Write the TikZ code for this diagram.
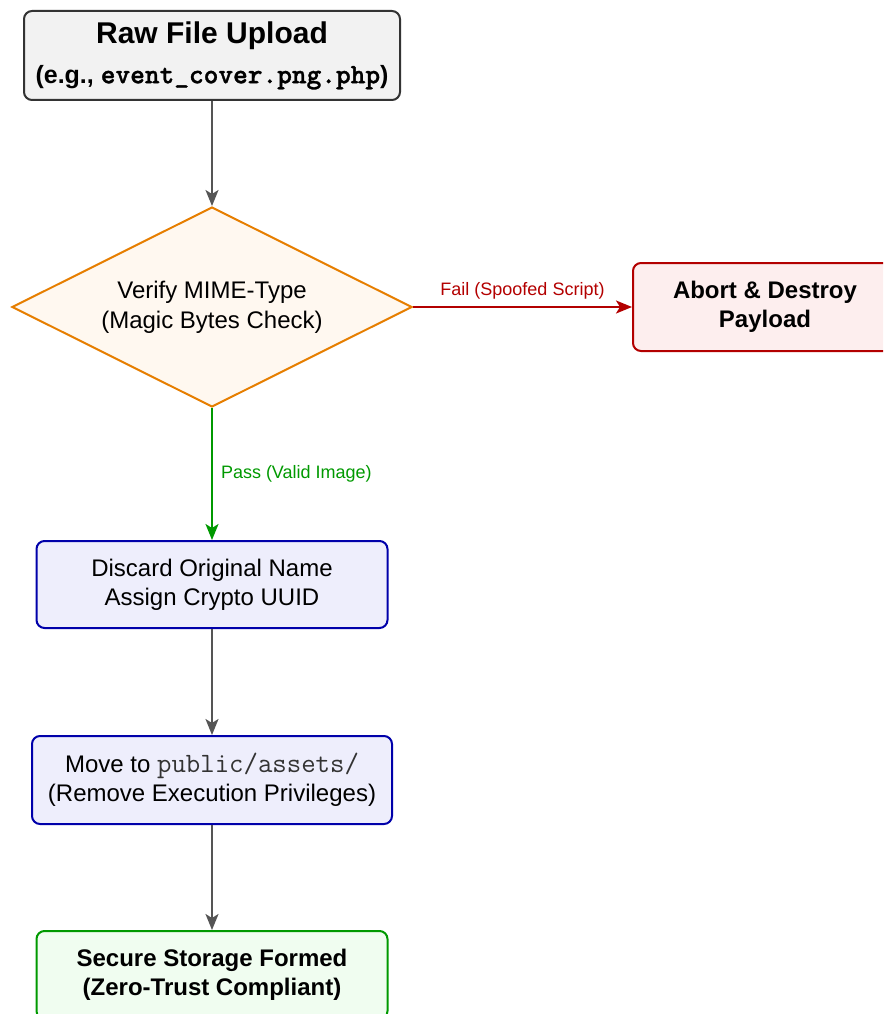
\documentclass[tikz,border=0pt]{standalone}
\usepackage{fontspec}
\setmainfont{Liberation Sans}
\newfontfamily\ttbold{lmmonolt10-bold.otf}[FakeBold=1.2]
\usetikzlibrary{shapes.geometric,arrows.meta}

\definecolor{edgegray}{HTML}{555555}
\definecolor{boxgray}{HTML}{333333}
\definecolor{fillgray}{HTML}{F2F2F2}
\definecolor{orangeline}{HTML}{E67E00}
\definecolor{orangefill}{HTML}{FFF8F0}
\definecolor{redline}{HTML}{B30000}
\definecolor{redfill}{HTML}{FDEEEE}
\definecolor{blueline}{HTML}{0000AA}
\definecolor{bluefill}{HTML}{EEEEFC}
\definecolor{greenline}{HTML}{009900}
\definecolor{greenfill}{HTML}{F0FDF0}
\definecolor{monogray}{HTML}{333333}

% typewriter text, set a little larger to keep its wide advance
\newcommand{\pathtt}[1]{{\fontsize{28}{29}\selectfont\ttfamily #1}}
\newcommand{\pathttbold}[1]{{\fontsize{28}{29}\selectfont\ttbold #1}}

\tikzset{
  stepbox/.style={draw, rounded corners=8pt, line width=2pt, align=center,
    inner sep=0pt, font=\fontsize{24}{29}\selectfont},
  flow/.style={draw=edgegray, line width=2pt,
    -{Stealth[length=16pt,width=13pt,inset=4pt]}},
  edgelabel/.style={font=\fontsize{18}{22}\selectfont, inner sep=0pt}
}

\begin{document}
\begin{tikzpicture}[x=1pt,y=-1pt]
  \clip (0,0) rectangle (883,1014);

  % input
  \node[stepbox, draw=boxgray, fill=fillgray, minimum width=376pt, minimum height=89pt,
        font=\fontsize{25}{40}\selectfont\bfseries]
    (upload) at (212,55.5)
    {{\fontsize{30}{36}\selectfont Raw File Upload}\\(e.g., \pathttbold{event\_cover.png.php})};

  % decision
  \node[diamond, draw=orangeline, fill=orangefill, line width=2pt, aspect=2,
        minimum width=400pt, minimum height=200pt, inner sep=0pt, align=center,
        font=\fontsize{24}{30}\selectfont]
    (check) at (212,307) {Verify MIME-Type\\(Magic Bytes Check)};

  % rejection branch
  \node[stepbox, draw=redline, fill=redfill, minimum width=264pt, minimum height=88pt,
        font=\fontsize{24}{29}\selectfont\bfseries]
    (abort) at (765,307) {Abort \& Destroy\\Payload};

  % accepted path
  \node[stepbox, draw=blueline, fill=bluefill, minimum width=351pt, minimum height=87pt]
    (rename) at (212,584.5) {Discard Original Name\\Assign Crypto UUID};

  \node[stepbox, draw=blueline, fill=bluefill, minimum width=360pt, minimum height=88pt]
    (move) at (212,780)
    {Move to {\color{monogray}\pathtt{public/assets/}}\\(Remove Execution Privileges)};

  \node[stepbox, draw=greenline, fill=greenfill, minimum width=351pt, minimum height=88pt,
        font=\fontsize{24}{29}\selectfont\bfseries]
    (store) at (212,975) {Secure Storage Formed\\(Zero-Trust Compliant)};

  % connectors
  \draw[flow] (upload.south) -- (check.north);
  \draw[flow, draw=redline] (check.east) -- (abort.west)
    node[midway, above=7pt, edgelabel, text=redline] {Fail (Spoofed Script)};
  \draw[flow, draw=greenline] (check.south) -- (rename.north)
    node[midway, right=8pt, edgelabel, text=greenline] {Pass (Valid Image)};
  \draw[flow] (rename.south) -- (move.north);
  \draw[flow] (move.south) -- (store.north);
\end{tikzpicture}
\end{document}
